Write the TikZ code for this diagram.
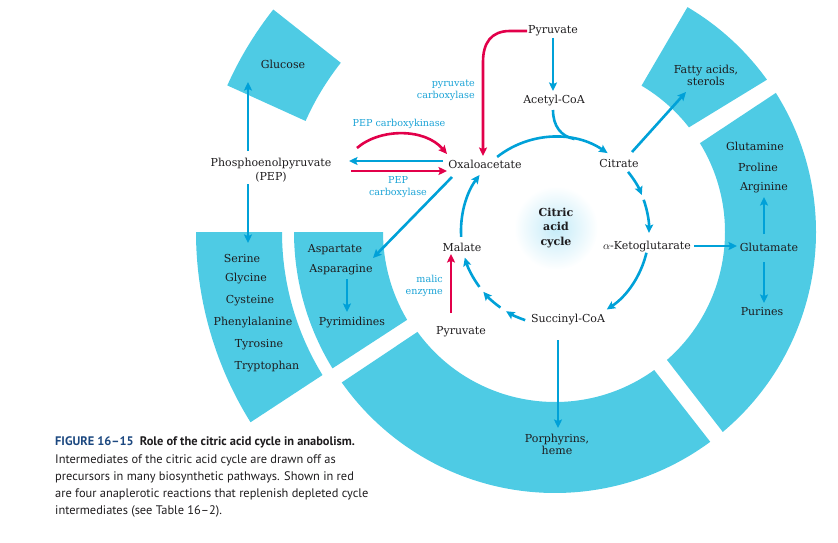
\documentclass[tikz,border=0pt]{standalone}
\usepackage{fontspec}
\setmainfont{DejaVu Serif}
\newfontfamily\capfont{PT Sans}
\usetikzlibrary{arrows.meta,calc}
\definecolor{secfill}{RGB}{78,203,228}
\definecolor{arrblue}{RGB}{0,161,216}
\definecolor{labblue}{RGB}{27,163,214}
\definecolor{arrred}{RGB}{226,0,74}
\definecolor{txt}{RGB}{30,28,30}
\definecolor{figblue}{RGB}{28,72,128}
\definecolor{glowc}{RGB}{196,235,248}
% ring sector: rin rout ain bin aout bout
\newcommand\ringsector[6]{%
  \fill[secfill] ($(C)+(#3:#1)$) arc[start angle=#3,end angle=#4,radius=#1]
    -- ($(C)+(#6:#2)$) arc[start angle=#6,end angle=#5,radius=#2] -- cycle;}
\newcommand\cycarc[2]{%
  \draw[ba] ($(K)+(#1:94)$) arc[start angle=#1,end angle=#2,radius=94];}
\begin{document}
\begin{tikzpicture}[x=1pt,y=-1pt,
  ba/.style={draw=arrblue,line width=2.6pt,-{Stealth[length=8.5pt,width=8pt,inset=1.6pt]}},
  ra/.style={draw=arrred,line width=2.6pt,-{Stealth[length=8.5pt,width=8pt,inset=1.6pt]}},
  lbl/.style={text=txt,inner sep=0pt,font=\fontsize{11}{13}\selectfont},
  two/.style={lbl,align=center,font=\fontsize{11}{12}\selectfont},
  enz/.style={text=labblue,inner sep=0pt,font=\fontsize{9.6}{12}\selectfont},
  capline/.style={anchor=base west,inner sep=0pt,text=txt,font=\capfont\fontsize{12.4}{14}\selectfont}]
\useasboundingbox (0,0) rectangle (838,543);
\coordinate (C) at (555,232);
\coordinate (K) at (555,231);
% ---- sectors
\ringsector{170}{261}{-59.4}{-38}{-59.5}{-35.7}
\ringsector{170}{261}{-31.5}{48.8}{-32.2}{50}
\ringsector{170}{261}{54.3}{144}{53.5}{144.8}
\ringsector{172}{261}{149.3}{180}{148.5}{180}
\ringsector{273}{359}{148.4}{180}{148}{180}
\ringsector{273}{359}{204}{218.3}{204.1}{218.3}
% ---- glow
\shade[inner color=glowc,outer color=white] (556,228) circle[radius=42];
% ---- texts
\node[lbl] (glucose) at (283,64) {Glucose};
\node[lbl,align=center,font=\fontsize{11}{14}\selectfont] (pep) at (271,170) {Phosphoenolpyruvate\\(PEP)};
\node[lbl] (oaa) at (485,164) {Oxaloacetate};
\node[lbl] (pyrtop) at (553,31) {Pyruvate};
\node[lbl] (acoa) at (554,101) {Acetyl-CoA};
\node[lbl] (citrate) at (619,163) {Citrate};
\node[two] (fatty) at (706,75) {Fatty acids,\\sterols};
\node[lbl] (gln) at (755,146) {Glutamine};
\node[lbl] (pro) at (758,167) {Proline};
\node[lbl] (arg) at (764,188) {Arginine};
\node[lbl] (glu) at (769,247) {Glutamate};
\node[lbl] (pur) at (762,312) {Purines};
\node[lbl] (akg) at (647,247) {$\alpha$-Ketoglutarate};
\node[lbl] (succoa) at (568,320) {Succinyl-CoA};
\node[lbl] (malate) at (462,247) {Malate};
\node[lbl] (pyrbot) at (461,332) {Pyruvate};
\node[lbl,align=center,font=\bfseries\fontsize{11}{14.6}\selectfont] (cac) at (556,228) {Citric\\acid\\cycle};
\node[two] (porph) at (557,444) {Porphyrins,\\heme};
\node[lbl] (asp) at (335,250) {Aspartate};
\node[lbl] (asn) at (341,270) {Asparagine};
\node[lbl] (pyrim) at (352,323) {Pyrimidines};
\node[lbl] (ser) at (242,258) {Serine};
\node[lbl] (gly) at (246,279) {Glycine};
\node[lbl] (cys) at (250,301) {Cysteine};
\node[lbl] (phe) at (253,323) {Phenylalanine};
\node[lbl] (tyr) at (259,345) {Tyrosine};
\node[lbl] (trp) at (267,367) {Tryptophan};
% enzyme labels
\node[enz,align=right,anchor=east] (pc) at (475,90) {pyruvate\\carboxylase};
\node[enz] (pepck) at (399,124) {PEP carboxykinase};
\node[enz,align=center] (pepc) at (398,187) {PEP\\carboxylase};
\node[enz,align=right,anchor=east] (me) at (443,286) {malic\\enzyme};
% ---- endpoint coordinates
\coordinate (glA) at (248,151); \coordinate (glB) at (248,82);
\coordinate (seA) at (248,184); \coordinate (seB) at (248,243);
\coordinate (opA) at (443,161); \coordinate (opB) at (349,161);
\coordinate (poA) at (351,171); \coordinate (poB) at (447,171);
\coordinate (ckA) at (357,148); \coordinate (ckB) at (447,154);
\coordinate (pcA) at (527,31);  \coordinate (pcB) at (483,156);
\coordinate (paA) at (553,38);  \coordinate (paB) at (553,91);
\coordinate (asA) at (452,177); \coordinate (asB) at (373,258);
\coordinate (faA) at (632,152); \coordinate (faB) at (686,92);
\coordinate (kgA) at (694,246); \coordinate (kgB) at (737,246);
\coordinate (arA) at (764,234); \coordinate (arB) at (764,197);
\coordinate (puA) at (764,262); \coordinate (puB) at (764,303);
\coordinate (phA) at (558,340); \coordinate (phB) at (558,428);
\coordinate (meA) at (451,313); \coordinate (meB) at (451,254);
\coordinate (pmA) at (347,279); \coordinate (pmB) at (347,312);
\coordinate (acA) at (553,110);
% ---- straight connectors
\draw[ba] (glA) -- (glB);
\draw[ba] (seA) -- (seB);
\draw[ba] (opA) -- (opB);
\draw[ra] (poA) -- (poB);
\draw[ra] (ckA) .. controls (380,128) and (425,128) .. (ckB);
\draw[ra] (pcA) -- (510,31) .. controls (491,31) and (483,43) .. (483,62) -- (pcB);
\draw[ba] (paA) -- (paB);
\draw[ba] (asA) -- (asB);
\draw[ba] (faA) -- (faB);
\draw[ba] (kgA) -- (kgB);
\draw[ba] (arA) -- (arB);
\draw[ba] (puA) -- (puB);
\draw[ba] (phA) -- (phB);
\draw[ra] (meA) -- (meB);
\draw[ba] (pmA) -- (pmB);
% ---- cycle
\cycarc{-128}{-56}
\draw[arrblue,line width=2.6pt] (acA) .. controls (553,126) and (561,136.5) .. ($(K)+(-78:94)$);
\cycarc{-39}{-22.5}
\cycarc{-19.4}{1.2}
\cycarc{13.4}{56.6}
\cycarc{108.5}{121.4}
\cycarc{125.5}{139.7}
\cycarc{143.5}{163.6}
\cycarc{176.4}{216.6}
% ---- caption
\node[capline] (cap1) at (55,445) {\textbf{\textcolor{figblue}{FIGURE 16–15}}\hspace{0.5em}\textbf{Role of the citric acid cycle in anabolism.}};
\node[capline] (cap2) at (55,463) {Intermediates of the citric acid cycle are drawn off as};
\node[capline] (cap3) at (55,480) {precursors in many biosynthetic pathways. Shown in red};
\node[capline] (cap4) at (55,497) {are four anaplerotic reactions that replenish depleted cycle};
\node[capline] (cap5) at (55,514) {intermediates (see Table 16–2).};
\end{tikzpicture}
\end{document}
